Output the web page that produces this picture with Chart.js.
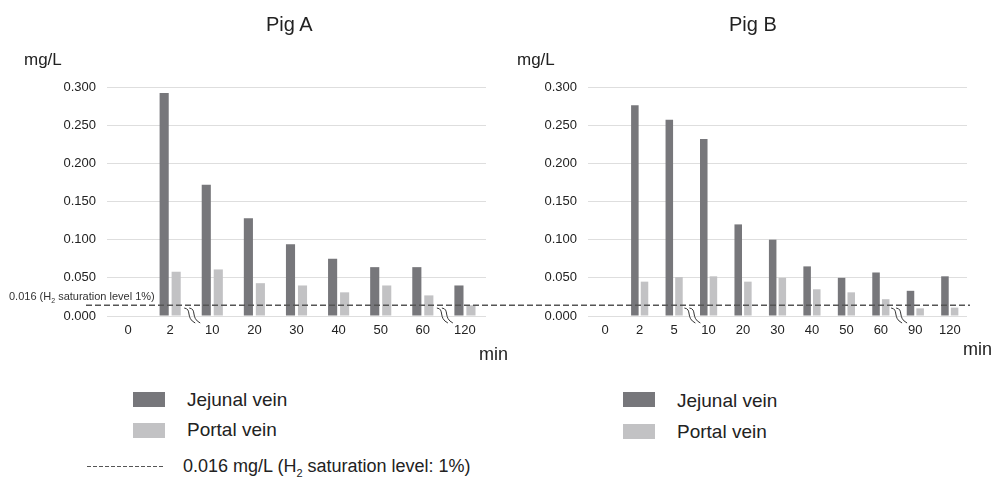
<!DOCTYPE html>
<html>
<head>
<meta charset="utf-8">
<script src="https://cdn.jsdelivr.net/npm/chart.js@4.4.1/dist/chart.umd.min.js"></script>
<style>
  body { margin: 0; background: #fff; font-family: "Liberation Sans", Arial, sans-serif; color: #222; }
  #lienzo { position: relative; width: 993px; height: 484px; overflow: hidden; }
  .txt { position: absolute; line-height: 1; white-space: nowrap; }
  .caja { position: absolute; width: 32px; height: 15px; }
  .wrap { position: absolute; top: 0; height: 370px; }
</style>
</head>
<body>
<div id="lienzo">
  <div class="wrap" style="left:0;width:500px"><canvas id="chartA"></canvas></div>
  <div class="wrap" style="left:500px;width:493px"><canvas id="chartB"></canvas></div>

  <!-- TITULOS Y EJES -->
  <div class="txt" style="left:266px;top:14px;font-size:20px">Pig A</div>
  <div class="txt" style="left:729px;top:14px;font-size:20px">Pig B</div>
  <div class="txt" style="left:24px;top:51px;font-size:17px">mg/L</div>
  <div class="txt" style="left:517px;top:51px;font-size:17px">mg/L</div>
  <div class="txt" style="left:479px;top:345px;font-size:18px">min</div>
  <div class="txt" style="left:963px;top:340px;font-size:18px">min</div>
  <div class="txt" style="left:9px;top:291px;font-size:11px;color:#333">0.016 (H<sub style="font-size:7px">2</sub> saturation level 1%)</div>

  <!-- LEYENDAS -->
  <div class="caja" style="left:133px;top:392px;background:#77777b"></div>
  <div class="txt" style="left:187px;top:390px;font-size:19px">Jejunal vein</div>
  <div class="caja" style="left:133px;top:423px;background:#c2c2c4"></div>
  <div class="txt" style="left:187px;top:420px;font-size:19px">Portal vein</div>

  <div class="caja" style="left:623px;top:392px;background:#77777b"></div>
  <div class="txt" style="left:677px;top:391px;font-size:19px">Jejunal vein</div>
  <div class="caja" style="left:623px;top:424px;background:#c2c2c4"></div>
  <div class="txt" style="left:677px;top:422px;font-size:19px">Portal vein</div>

  <div style="position:absolute;left:87px;top:466px;width:78px;height:1px;background:repeating-linear-gradient(90deg,#555 0 4px,transparent 4px 6px)"></div>
  <div class="txt" style="left:183px;top:457px;font-size:18px">0.016 mg/L (H<sub style="font-size:11px">2</sub> saturation level: 1%)</div>
</div>

<script>
//DATOS
var minutosA = ['0', '2', '10', '20', '30', '40', '50', '60', '120'];
var yeyunalA = [0, 0.292, 0.172, 0.128, 0.094, 0.075, 0.064, 0.064, 0.040];
var portalA = [0, 0.058, 0.061, 0.043, 0.040, 0.031, 0.040, 0.027, 0.014];

var minutosB = ['0', '2', '5', '10', '20', '30', '40', '50', '60', '90', '120'];
var yeyunalB = [0, 0.276, 0.257, 0.232, 0.120, 0.100, 0.065, 0.050, 0.057, 0.033, 0.052];
var portalB = [0, 0.045, 0.051, 0.052, 0.045, 0.050, 0.035, 0.031, 0.022, 0.010, 0.011];

var nivelSaturacion = 0.014;
var rotasA = [2, 8];
var rotasB = [3, 9];

//DIBUJAR LA MARCA DE CORTE DEL EJE
function dibujarRotura(ctx, x, y) {
    ctx.strokeStyle = '#333';
    ctx.lineWidth = 1;
    for (var k = 0; k < 2; k++) {
        var x0 = x - 9 + k * 5;
        var y0 = y - 8;
        ctx.beginPath();
        ctx.moveTo(x0, y0);
        ctx.bezierCurveTo(x0 + 8, y0 + 1, x0 + 1, y0 + 10, x0 + 11, y0 + 15);
        ctx.stroke();
    }
}

//PLUGIN LINEA DISCONTINUA + CORTES
var lineaYRotura = {
    id: 'lineaYRotura',
    afterDatasetsDraw: function (chart, args, opts) {
        var ctx = chart.ctx;
        var y = chart.scales.y.getPixelForValue(nivelSaturacion);
        ctx.save();
        ctx.setLineDash([6, 3]);
        ctx.strokeStyle = '#555';
        ctx.lineWidth = 1.5;
        ctx.beginPath();
        ctx.moveTo(opts.desde, y);
        ctx.lineTo(opts.hasta, y);
        ctx.stroke();
        ctx.setLineDash([]);
        var ejeX = chart.scales.x;
        opts.roturas.forEach(function (i) {
            var xb = (ejeX.getPixelForValue(i - 1) + ejeX.getPixelForValue(i)) / 2 + 2;
            dibujarRotura(ctx, xb, chart.chartArea.bottom);
        });
        ctx.restore();
    }
};

//CONSTRUCTOR DE LA GRAFICA
function grafica(id, etiquetas, yeyunal, portal, anchoEjeY, derecha, catPct, barPct, desde, hasta, roturas) {
    var ctx = document.getElementById(id);
    return new Chart(ctx, {
        type: 'bar',
        data: {
            labels: etiquetas,
            datasets: [
                {
                    label: 'Jejunal vein',
                    data: yeyunal,
                    backgroundColor: '#77777b',
                    categoryPercentage: catPct,
                    barPercentage: barPct
                },
                {
                    label: 'Portal vein',
                    data: portal,
                    backgroundColor: '#c2c2c4',
                    categoryPercentage: catPct,
                    barPercentage: barPct
                }
            ]
        },
        options: {
            responsive: true,
            maintainAspectRatio: false,
            animation: false,
            layout: { padding: { top: 87, left: 0, right: derecha, bottom: 0 } },
            plugins: {
                legend: { display: false },
                tooltip: { enabled: false },
                lineaYRotura: { desde: desde, hasta: hasta, roturas: roturas }
            },
            scales: {
                x: {
                    grid: { display: false, drawTicks: false },
                    border: { display: false },
                    ticks: { color: '#222', padding: 7, font: { family: 'Liberation Sans', size: 13 } },
                    afterFit: function (s) { s.height = 54; }
                },
                y: {
                    min: 0,
                    max: 0.3,
                    grid: { color: '#dedede', lineWidth: 1, drawTicks: false },
                    border: { display: false },
                    ticks: {
                        stepSize: 0.05,
                        color: '#222',
                        padding: 11,
                        font: { family: 'Liberation Sans', size: 13 },
                        callback: function (v) { return v.toFixed(3); }
                    },
                    afterFit: function (s) { s.width = anchoEjeY; }
                }
            }
        },
        plugins: [lineaYRotura]
    });
}

var miGraficaA = grafica('chartA', minutosA, yeyunalA, portalA, 107, 14, 0.57, 0.76, 86, 500, rotasA);
var miGraficaB = grafica('chartB', minutosB, yeyunalB, portalB, 88, 26, 0.56, 0.78, 0, 470, rotasB);
</script>
</body>
</html>
